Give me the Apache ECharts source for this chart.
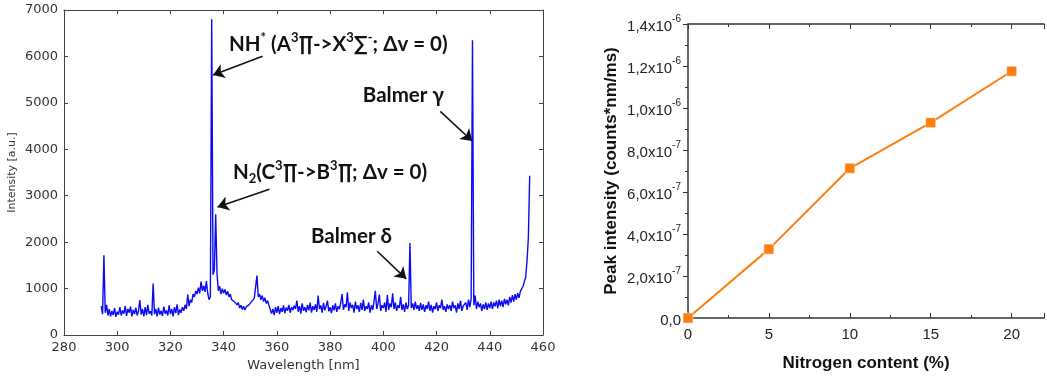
<!DOCTYPE html>
<html><head><meta charset="utf-8">
<script src="https://cdn.jsdelivr.net/npm/echarts@6/dist/echarts.min.js"></script>
<style>html,body{margin:0;padding:0;background:#fff}#c{width:1047px;height:377px}</style>
</head><body><div id="c"></div>
<script>
// ---- Left panel: emission spectrum, sampled every 0.5 nm starting at 294 nm ----
const specStart = 294;
const specStep = 0.5;
const intensity = [
 620,450,1720,480,650,420,560,400,520,430,580,390,500,440,600,420,530,460,620,410,
 560,480,610,400,540,450,590,420,520,750,440,560,400,600,430,650,460,510,420,1110,
 450,560,400,590,440,520,410,610,460,530,420,640,450,560,400,600,470,660,430,550,
 480,600,520,650,560,870,620,760,700,880,820,950,880,1020,900,1150,950,1060,930,1160,
 900,760,820,6800,1300,1400,2600,1320,950,1050,880,1000,900,980,860,940,820,880,760,800,
 720,760,650,700,580,640,550,620,540,610,580,650,640,720,700,790,760,1280,820,880,
 760,850,720,800,680,740,640,600,460,560,430,600,480,620,450,580,500,640,470,590,
 520,650,480,600,540,630,560,740,500,620,460,680,520,600,490,650,530,700,480,620,
 540,660,500,850,560,640,480,690,530,620,740,510,600,470,640,530,680,500,620,560,
 700,880,540,660,600,920,520,700,580,650,480,720,560,640,500,690,540,760,520,620,
 560,700,480,640,540,720,950,560,680,870,520,640,580,700,500,860,540,680,600,900,
 560,700,520,640,580,820,540,660,500,700,560,640,1980,580,680,540,720,560,640,520,
 690,540,660,500,640,560,720,520,650,480,620,560,700,520,640,580,760,540,620,500,
 660,560,640,520,720,580,640,480,680,560,740,520,620,580,700,540,760,600,780,6350,
 640,850,560,720,600,680,520,660,560,700,540,680,580,720,560,700,620,740,580,760,
 620,740,600,780,660,760,640,820,700,860,720,880,760,900,800,940,900,1050,1150,1250,
 1600,2100,3430
];
const leftXTicks = [280,300,320,340,360,380,400,420,440,460];
const leftYTicks = [0,1000,2000,3000,4000,5000,6000,7000];

// annotation text anchors (left edge, vertical centre) and arrows, in data units
const annoText = [
  {name:'NH', at:[342.0, 6257]},
  {name:'N2', at:[343.5, 3500]},
  {name:'Hg', at:[392.3, 5154]},
  {name:'Hd', at:[372.8, 2121]}
];
const arrowFrom = [[354.6, 6003],[357.2, 3139],[421.4, 4815],[397.7, 1803]];
const arrowTo   = [[336.0, 5600],[337.7, 2757],[433.4, 4179],[408.6, 1209]];

// ---- Right panel: peak intensity vs nitrogen content ----
const nitrogen = [0, 5, 10, 15, 20];
const peakIntensity = [0, 3.28e-7, 7.13e-7, 9.30e-7, 1.175e-6];
const rightYMant = ['0,0','2,0x10','4,0x10','6,0x10','8,0x10','1,0x10','1,2x10','1,4x10'];
const rightYExp  = ['','-7','-7','-7','-7','-6','-6','-6'];
const rightXTicks = [0,5,10,15,20];

const specData = intensity.map((v,i)=>[specStart + i*specStep, v]);

const txtFont = 'Lato, "DejaVu Sans", sans-serif';
const annoRich = {
  n:{fontFamily:txtFont,fontWeight:'bold',fontSize:20.5,color:'#111',lineHeight:26},
  s:{fontFamily:txtFont,fontWeight:'bold',fontSize:13,color:'#111',verticalAlign:'top',lineHeight:26},
  b:{fontFamily:txtFont,fontWeight:'bold',fontSize:13,color:'#111',verticalAlign:'bottom',lineHeight:26}
};
const annoStr = {
  NH:'{n|NH}{s|*}{n| (A}{s|3}{n|∏->X}{s|3}{n|∑}{s|-}{n|; Δv = 0)}',
  N2:'{n|N}{b|2}{n|(C}{s|3}{n|∏->B}{s|3}{n|∏; Δv = 0)}',
  Hg:'{n|Balmer γ}',
  Hd:'{n|Balmer δ}'
};

const axisCol = '#444';
const lblCol = '#333';
const mplFont = '"DejaVu Sans", sans-serif';

const chart = echarts.init(document.getElementById('c'));
chart.setOption({
  animation:false,
  backgroundColor:'#fff',
  grid:[
    {left:64, top:10, width:479, height:330},
    {left:688, top:24, width:365, height:294}
  ],
  xAxis:[
    {gridIndex:0, type:'value', min:280, max:460, interval:20, position:'bottom',
     axisLine:{onZero:false,lineStyle:{color:axisCol,width:1}},
     axisTick:{inside:true,length:4,lineStyle:{color:axisCol}},
     axisLabel:{color:lblCol,fontFamily:mplFont,fontSize:13,margin:6,
       formatter:(v)=> leftXTicks.includes(v)? String(v):''},
     splitLine:{show:false},
     name:'Wavelength [nm]', nameLocation:'middle', nameGap:24,
     nameTextStyle:{color:lblCol,fontFamily:mplFont,fontSize:13}},
    {gridIndex:0, type:'value', min:280, max:460, interval:20, position:'top',
     axisLine:{onZero:false,lineStyle:{color:axisCol,width:1}},
     axisTick:{inside:true,length:4,lineStyle:{color:axisCol}},
     axisLabel:{show:false}, splitLine:{show:false}},
    {gridIndex:1, type:'value', min:0, max:22, interval:5, position:'bottom',
     axisLine:{onZero:false,lineStyle:{color:'#333',width:1.5}},
     axisTick:{inside:true,length:5,lineStyle:{color:'#333'}},
     minorTick:{show:true,splitNumber:2,length:3,lineStyle:{color:'#333'}},
     axisLabel:{color:'#222',fontFamily:'"Liberation Sans", Arial, sans-serif',fontSize:15,margin:9,
       formatter:(v)=> rightXTicks.includes(v)? String(v):''},
     splitLine:{show:false},
     name:'Nitrogen content (%)', nameLocation:'middle', nameGap:37,
     nameTextStyle:{color:'#111',fontFamily:'"Liberation Sans", Arial, sans-serif',fontWeight:'bold',fontSize:17}},
    {gridIndex:1, type:'value', min:0, max:22, interval:5, position:'top',
     axisLine:{onZero:false,lineStyle:{color:'#333',width:1.5}},
     axisTick:{inside:true,length:5,lineStyle:{color:'#333'}},
     minorTick:{show:true,splitNumber:2,length:3,lineStyle:{color:'#333'}},
     axisLabel:{show:false}, splitLine:{show:false}}
  ],
  yAxis:[
    {gridIndex:0, type:'value', min:0, max:7000, interval:1000, position:'left',
     axisLine:{show:true,onZero:false,lineStyle:{color:axisCol,width:1}},
     axisTick:{show:true,inside:true,length:4,lineStyle:{color:axisCol}},
     axisLabel:{color:lblCol,fontFamily:mplFont,fontSize:13,margin:6,
       formatter:(v)=> leftYTicks.includes(v)? String(v):''},
     splitLine:{show:false},
     name:'Intensity [a.u.]', nameLocation:'middle', nameGap:46,
     nameTextStyle:{color:lblCol,fontFamily:mplFont,fontSize:11}},
    {gridIndex:0, type:'value', min:0, max:7000, interval:1000, position:'right',
     axisLine:{show:true,onZero:false,lineStyle:{color:axisCol,width:1}},
     axisTick:{show:true,inside:true,length:4,lineStyle:{color:axisCol}},
     axisLabel:{show:false}, splitLine:{show:false}},
    {gridIndex:1, type:'value', min:0, max:1.4e-6, interval:2e-7, position:'left',
     axisLine:{show:true,onZero:false,lineStyle:{color:'#333',width:1.5}},
     axisTick:{show:true,inside:false,length:5,lineStyle:{color:'#333'}},
     minorTick:{show:true,splitNumber:2,length:3,lineStyle:{color:'#333'}},
     axisLabel:{margin:7,
       formatter:(v)=>{const i=Math.round(v/2e-7); return rightYExp[i]? '{m|'+rightYMant[i]+'}{e|'+rightYExp[i]+'}' : '{m|'+rightYMant[i]+'}';},
       rich:{
         m:{color:'#222',fontFamily:'"Liberation Sans", Arial, sans-serif',fontSize:15,lineHeight:20,verticalAlign:'bottom'},
         e:{color:'#222',fontFamily:'"Liberation Sans", Arial, sans-serif',fontSize:10,lineHeight:20,verticalAlign:'top'}
       }},
     splitLine:{show:false},
     name:'Peak intensity (counts*nm/ms)', nameLocation:'middle', nameGap:68,
     nameTextStyle:{color:'#111',fontFamily:'"Liberation Sans", Arial, sans-serif',fontWeight:'bold',fontSize:17}}
  ],
  series:[
    {type:'line', xAxisIndex:0, yAxisIndex:0, data:specData, showSymbol:false, symbol:'none',
     lineStyle:{color:'#0a0af5',width:1.4}, silent:true,
     markPoint:{silent:true, symbol:'circle', symbolSize:0,
       data: annoText.map(a=>({coord:a.at, name:a.name,
         label:{show:true, position:'right', distance:0, formatter:annoStr[a.name], rich:annoRich}}))},
     markLine:{silent:true, symbol:['none','arrow'], symbolSize:11,
       label:{show:false}, lineStyle:{color:'#111',width:1.6,type:'solid'},
       emphasis:{disabled:true},
       data: arrowFrom.map((f,i)=>[{coord:f, symbol:'none'},{coord:arrowTo[i], symbol:'arrow', symbolSize:11}])}
    },
    {type:'line', xAxisIndex:2, yAxisIndex:2,
     data: nitrogen.map((x,i)=>[x, peakIntensity[i]]),
     symbol:'rect', symbolSize:10,
     lineStyle:{color:'#ff7f0e',width:2}, itemStyle:{color:'#ff7f0e',borderColor:'#fff',borderWidth:0.5}}
  ]
});
</script></body></html>
